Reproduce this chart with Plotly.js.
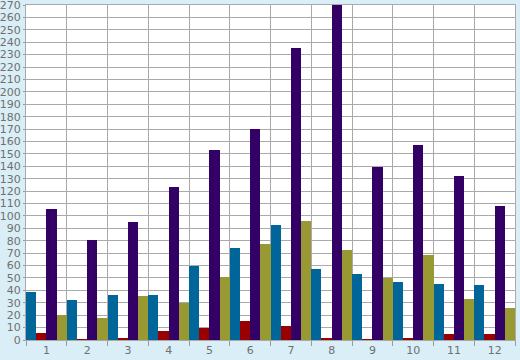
<!DOCTYPE html>
<html>
<head>
<meta charset="utf-8">
<script src="https://cdn.plot.ly/plotly-3.0.1.min.js"></script>
<style>html,body{margin:0;padding:0;background:#d9eef6;}#chart{width:520px;height:360px;}</style>
</head>
<body>
<div id="chart"></div>
<script>
var categories = ["1","2","3","4","5","6","7","8","9","10","11","12"];
var seriesBlue   = [39, 32, 36, 36, 60, 74, 93, 57, 53, 47, 45, 44];
var seriesRed    = [6, 1, 2, 7.5, 10, 15.5, 11.5, 1.6, 1, 1.6, 5, 5];
var seriesPurple = [105.5, 80.5, 95, 123.5, 153, 170, 235.5, 275, 139.5, 157, 132, 108];
var seriesOlive  = [20, 18, 35.5, 30, 51, 77, 96, 72.5, 50, 68.5, 33, 26];
var yTicks = [];
for (var v = 0; v <= 270; v += 10) yTicks.push(v);

var colors = ["#006699", "#990000", "#330066", "#999933"];
var series = [seriesBlue, seriesRed, seriesPurple, seriesOlive];
var data = series.map(function(s, i) {
  return {type: "bar", x: categories, y: s, marker: {color: colors[i], line: {width: 0}}, hoverinfo: "none"};
});

var layout = {
  width: 520, height: 360,
  margin: {l: 26, r: 5, t: 5, b: 20},
  paper_bgcolor: "#d9eef6",
  plot_bgcolor: "#ffffff",
  showlegend: false,
  barmode: "group",
  bargap: 0,
  bargroupgap: 0,
  font: {family: "DejaVu Sans", size: 11, color: "#707070"},
  xaxis: {
    type: "category",
    tickson: "boundaries",
    ticks: "outside",
    ticklen: 5,
    tickcolor: "#999999",
    showgrid: true,
    gridcolor: "#aaaaaa",
    gridwidth: 1,
    showline: true,
    linecolor: "#aaaaaa",
    mirror: true,
    zeroline: false,
    tickfont: {family: "DejaVu Sans", size: 11, color: "#707070"}
  },
  yaxis: {
    range: [0, 270],
    tickvals: yTicks,
    ticktext: yTicks.map(String),
    ticklabeloverflow: "allow",
    ticks: "outside",
    ticklen: 2,
    tickcolor: "#999999",
    showgrid: true,
    gridcolor: "#aaaaaa",
    gridwidth: 1,
    showline: true,
    linecolor: "#aaaaaa",
    mirror: true,
    zeroline: false,
    tickfont: {family: "DejaVu Sans", size: 11, color: "#707070"}
  }
};
Plotly.newPlot("chart", data, layout, {staticPlot: true, displayModeBar: false});
</script>
</body>
</html>
